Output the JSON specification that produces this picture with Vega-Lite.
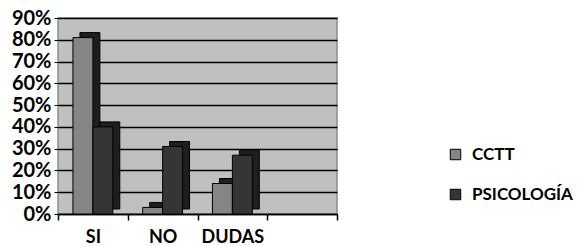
{
  "$schema": "https://vega.github.io/schema/vega-lite/v6.json",
  "width": 279,
  "height": 196,
  "autosize": {"type": "none"},
  "padding": {"left": 58, "top": 18, "right": 245, "bottom": 32},
  "background": "white",
  "data": {"values": [
    {"cat": "SI", "serie": "CCTT", "v": 0.81},
    {"cat": "SI", "serie": "PSICOLOGÍA", "v": 0.40},
    {"cat": "NO", "serie": "CCTT", "v": 0.03},
    {"cat": "NO", "serie": "PSICOLOGÍA", "v": 0.31},
    {"cat": "DUDAS", "serie": "CCTT", "v": 0.14},
    {"cat": "DUDAS", "serie": "PSICOLOGÍA", "v": 0.27}
  ]},
  "config": {
    "view": {"fill": "#c0c0c0", "stroke": "#8a8a8a", "strokeWidth": 1.5},
    "font": "Lato"
  },
  "encoding": {
    "x": {
      "field": "cat", "type": "nominal", "sort": ["SI", "NO", "DUDAS", " "],
      "scale": {"domain": ["SI", "NO", "DUDAS", " "], "paddingInner": 0, "paddingOuter": 0},
      "axis": {"title": null, "labelAngle": 0, "labelFont": "Lato", "labelFontWeight": "bold", "labelFontSize": 18, "labelColor": "black", "labelPadding": 8, "tickBand": "extent", "tickColor": "black", "tickSize": 6, "domainColor": "black", "domainWidth": 1.5, "tickWidth": 1.5}
    },
    "y": {
      "field": "v", "type": "quantitative",
      "scale": {"domain": [0, 0.9], "nice": false},
      "axis": {"title": null, "format": ".0%", "values": [0, 0.1, 0.2, 0.3, 0.4, 0.5, 0.6, 0.7, 0.8, 0.9], "grid": true, "gridColor": "black", "gridWidth": 1.5, "ticks": true, "tickSize": 4, "tickColor": "black", "domain": false, "labelFont": "Lato", "labelFontWeight": "bold", "labelFontSize": 20, "labelColor": "black", "labelPadding": 3}
    }
  },
  "layer": [
    {
      "mark": {"type": "bar", "yOffset": -5, "y2Offset": -5, "stroke": "black", "strokeWidth": 1, "fill": "#1e1e1e"},
      "encoding": {
        "xOffset": {"field": "serie", "type": "nominal", "scale": {"paddingInner": 0, "paddingOuter": 0.75, "range": [7, 76.75]}}
      }
    },
    {
      "mark": {"type": "bar", "stroke": "black", "strokeWidth": 1},
      "encoding": {
        "xOffset": {"field": "serie", "type": "nominal", "scale": {"paddingInner": 0, "paddingOuter": 0.75}},
        "color": {
          "field": "serie", "type": "nominal",
          "scale": {"domain": ["CCTT", "PSICOLOGÍA"], "range": ["#858585", "#353535"]},
          "legend": {"title": null, "orient": "none", "legendX": 389, "legendY": 128, "symbolType": "square", "symbolSize": 110, "symbolStrokeColor": "black", "symbolStrokeWidth": 1, "labelFont": "Lato", "labelFontWeight": "bold", "labelFontSize": 17, "labelColor": "black", "rowPadding": 22, "labelOffset": 8}
        }
      }
    }
  ],
  "resolve": {"scale": {"xOffset": "independent"}}
}
